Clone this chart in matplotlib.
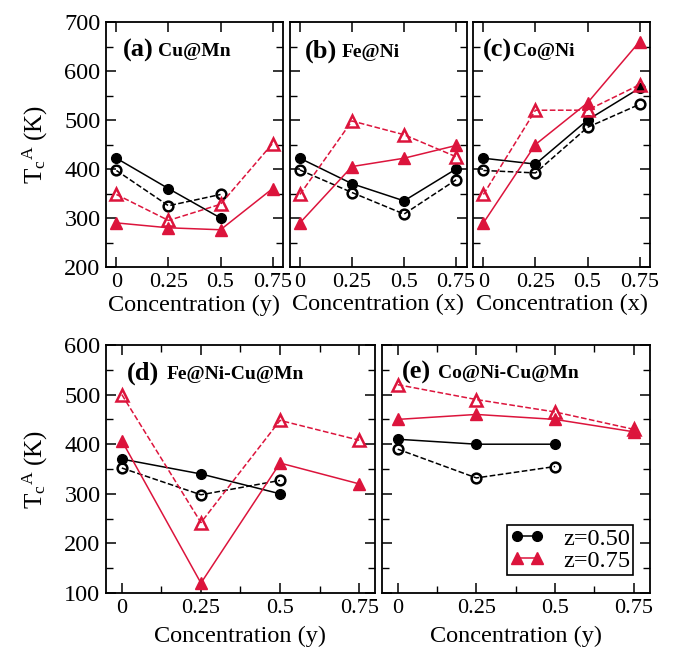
import matplotlib
matplotlib.use("Agg")
import matplotlib.pyplot as plt
from matplotlib.ticker import MultipleLocator, FixedLocator

plt.rcParams.update({
    "font.family": "Liberation Serif",
    "mathtext.fontset": "custom",
    "mathtext.rm": "Liberation Serif",
    "mathtext.it": "Liberation Serif",
    "font.size": 13,
    "axes.linewidth": 1.3,
    "xtick.direction": "in", "ytick.direction": "in",
    "xtick.top": True, "ytick.right": True,
    "xtick.major.size": 7, "ytick.major.size": 7,
    "xtick.minor.size": 5, "ytick.minor.size": 5,
    "xtick.major.width": 1.1, "ytick.major.width": 1.1,
    "xtick.minor.width": 1.0, "ytick.minor.width": 1.0,
})
RED = "#DC143C"
BLACK = "black"

x = [0, 0.25, 0.5, 0.75]
xticklabels = ["0", "0.25", "0.5", "0.75"]

# (a) Cu@Mn
a_z50 = [422, 360, 300]
a_z50o = [397, 325, 348]
a_z75 = [290, 280, 276, 360]
a_z75o = [348, 295, 328, 452]
# (b) Fe@Ni
b_z50 = [422, 370, 335, 400]
b_z50o = [398, 352, 308, 378]
b_z75 = [290, 405, 422, 448]
b_z75o = [348, 498, 470, 425]
# (c) Co@Ni
c_z50 = [422, 410, 500, 565]
c_z50o = [397, 392, 485, 532]
c_z75 = [290, 450, 535, 660]
c_z75o = [348, 520, 520, 572]
# (d) Fe@Ni-Cu@Mn
d_z50 = [370, 340, 300]
d_z50o = [352, 298, 327]
d_z75 = [407, 120, 362, 320]
d_z75o = [500, 242, 448, 408]
# (e) Co@Ni-Cu@Mn
e_z50 = [410, 400, 400]
e_z50o = [390, 332, 355]
e_z75 = [450, 460, 450, 425]
e_z75o = [520, 490, 465, 430]

panels = [
    ("(a)", "Cu@Mn", "Concentration (y)", a_z50, a_z50o, a_z75, a_z75o),
    ("(b)", "Fe@Ni", "Concentration (x)", b_z50, b_z50o, b_z75, b_z75o),
    ("(c)", "Co@Ni", "Concentration (x)", c_z50, c_z50o, c_z75, c_z75o),
    ("(d)", "Fe@Ni-Cu@Mn", "Concentration (y)", d_z50, d_z50o, d_z75, d_z75o),
    ("(e)", "Co@Ni-Cu@Mn", "Concentration (y)", e_z50, e_z50o, e_z75, e_z75o),
]

W, H = 675, 654
boxes = [(106, 22, 283, 267), (289.5, 22, 466.5, 267), (473, 22, 650, 267),
         (106, 345, 375, 593), (382, 345, 649.5, 593)]
# label x position (axes fraction) and gap between tag and name (points)
tag_x = [0.095, 0.088, 0.056, 0.078, 0.075]
tag_y = [0.93, 0.93, 0.93, 0.935, 0.935]
gaps = [3, 3, 0.5, 5, 5]

fig = plt.figure(figsize=(6.75, 6.54), dpi=100)
YLAB = r"T$_\mathrm{c}{}^{\mathrm{A}}$ (K)"
for i, (tag, name, xlab, z50, z50o, z75, z75o) in enumerate(panels):
    l, t, r, b = boxes[i]
    ax = fig.add_axes([l / W, 1 - b / H, (r - l) / W, (b - t) / H])
    ax.plot(x[:len(z50)], z50, "-o", color=BLACK, lw=1.1, ms=7, zorder=3)
    ax.plot(x[:len(z50o)], z50o, "--o", color=BLACK, lw=1.1, ms=7, mfc="none", mew=1.8, zorder=3)
    ax.plot(x[:len(z75)], z75, "-^", color=RED, lw=1.1, ms=8, zorder=4)
    ax.plot(x[:len(z75o)], z75o, "--^", color=RED, lw=1.1, ms=8, mfc="none", mew=1.8, zorder=4)
    ax.set_xlim(-0.05, 0.8)
    ax.xaxis.set_major_locator(FixedLocator(x))
    ax.set_xticklabels(xticklabels)
    if i < 3:
        ax.set_ylim(200, 700)
    else:
        ax.set_ylim(100, 600)
        ax.xaxis.set_minor_locator(MultipleLocator(0.125))
    ax.yaxis.set_major_locator(MultipleLocator(100))
    ax.yaxis.set_minor_locator(MultipleLocator(50))
    ax.tick_params(which="both", top=True, right=True)
    ax.tick_params(axis="x", labelsize=16, pad=4)
    ax.tick_params(axis="y", labelsize=17.5, pad=4)
    if i in (0, 3):
        ax.set_ylabel(YLAB, fontsize=18, labelpad=10)
    else:
        ax.set_yticklabels([])
    ax.set_xlabel(xlab, fontsize=17.5, labelpad=2 if i < 3 else 6)
    tt = ax.text(tag_x[i], tag_y[i], tag, transform=ax.transAxes, fontsize=19,
                 fontweight="bold", va="top", ha="left")
    ax.annotate(name, xy=(1, 0.08), xycoords=tt, xytext=(gaps[i], 0),
                textcoords="offset points", fontsize=14, fontweight="bold",
                va="bottom", ha="left")
    if i == 4:
        h1, = ax.plot([], [], "-o", color=BLACK, lw=1.1, ms=7)
        h2, = ax.plot([], [], "-^", color=RED, lw=1.1, ms=8)
        leg = ax.legend([h1, h2], ["z=0.50", "z=0.75"], loc="lower right", fontsize=17.5,
                        fancybox=False, edgecolor="black", framealpha=1, numpoints=2,
                        handlelength=1.4, handletextpad=0.8, borderpad=0.12,
                        labelspacing=0.0, borderaxespad=0,
                        bbox_to_anchor=(0.94, 0.073))
        leg.get_frame().set_linewidth(1.2)

fig.savefig("out.png", dpi=100)
